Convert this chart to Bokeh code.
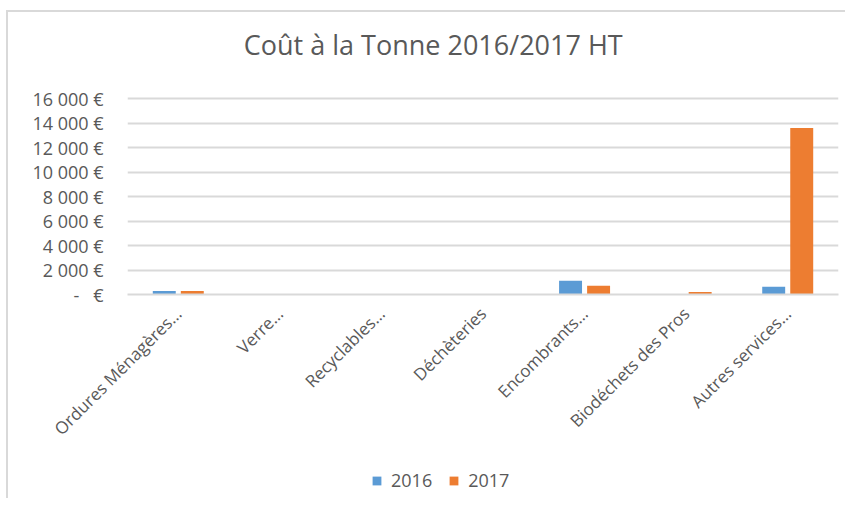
import math
from bokeh.plotting import figure
from bokeh.layouts import column
from bokeh.models import (ColumnDataSource, FixedTicker, Label, Legend, LegendItem,
                          FactorRange, Range1d)
from bokeh.transform import dodge
from bokeh.embed import file_html
from bokeh.resources import INLINE

categories = ["Ordures Ménagères…", "Verre…", "Recyclables…", "Déchèteries",
              "Encombrants…", "Biodéchets des Pros", "Autres services…"]
values_2016 = [290, 0, 0, 0, 1130, 0, 630]
values_2017 = [290, 0, 0, 0, 710, 200, 13600]
y_ticks = [0, 2000, 4000, 6000, 8000, 10000, 12000, 14000, 16000]
y_tick_labels = ["-\u00a0\u00a0\u00a0€", "2 000 €", "4 000 €", "6 000 €", "8 000 €",
                 "10 000 €", "12 000 €", "14 000 €", "16 000 €"]
series_names = ["2016", "2017"]
title_text = "Coût à la Tonne 2016/2017 HT"

FONT = "Open Sans"
TXT = "#595959"
GRID = "#d9d9d9"
BLUE = "#5b9bd5"
ORANGE = "#ed7d31"

src = ColumnDataSource(dict(cat=categories, v2016=values_2016, v2017=values_2017))

# main chart: frame extends above the 16000 line to host the title
p = figure(width=837, height=450, output_backend="svg", toolbar_location=None,
           title_location=None,
           x_range=FactorRange(*categories), y_range=(0, 22370),
           min_border_left=119, min_border_right=7, min_border_top=8,
           min_border_bottom=168)
p.outline_line_color = None
p.background_fill_color = "white"
p.border_fill_color = "white"

r1 = p.vbar(x=dodge("cat", -0.138, range=p.x_range), top="v2016", width=0.226,
            source=src, fill_color=BLUE, line_color=None)
r2 = p.vbar(x=dodge("cat", 0.138, range=p.x_range), top="v2017", width=0.226,
            source=src, fill_color=ORANGE, line_color=None)

p.yaxis.ticker = FixedTicker(ticks=y_ticks)
p.yaxis.major_label_overrides = {t: l for t, l in zip(y_ticks, y_tick_labels)}
p.yaxis.axis_line_color = None
p.yaxis.major_tick_line_color = None
p.yaxis.minor_tick_line_color = None
p.yaxis.major_tick_out = 0
p.yaxis.major_label_standoff = 24
p.yaxis.major_label_text_font = FONT
p.yaxis.major_label_text_font_size = "18px"
p.yaxis.major_label_text_color = TXT

p.xaxis.axis_line_color = GRID
p.xaxis.axis_line_width = 2
p.xaxis.major_tick_line_color = None
p.xaxis.minor_tick_line_color = None
p.xaxis.major_tick_out = 0
p.xaxis.major_label_standoff = 16
p.xaxis.major_label_orientation = math.pi / 4
p.xaxis.major_label_text_font = FONT
p.xaxis.major_label_text_font_size = "17px"
p.xaxis.major_label_text_color = TXT

p.xgrid.grid_line_color = None
p.ygrid.ticker = FixedTicker(ticks=y_ticks)
p.ygrid.grid_line_color = GRID
p.ygrid.grid_line_width = 2

p.add_layout(Label(x=3.01, y=20400, text=title_text, text_align="center",
                   text_baseline="alphabetic", text_font=FONT,
                   text_font_size="27px", text_color=TXT))

# legend strip below the chart (its glyphs have zero size, only the legend shows)
q = figure(width=837, height=36, output_backend="svg", toolbar_location=None,
           title_location=None, x_axis_type=None, y_axis_type=None,
           x_range=FactorRange(*categories), y_range=Range1d(-2, -1),
           min_border_left=0, min_border_right=0,
           min_border_top=0, min_border_bottom=0)
q.outline_line_color = None
q.background_fill_color = "white"
q.border_fill_color = "white"
l1 = q.vbar(x="cat", top="v2016", bottom="v2016", width=0, source=src,
            fill_color=BLUE, line_color=None)
l2 = q.vbar(x="cat", top="v2017", bottom="v2017", width=0, source=src,
            fill_color=ORANGE, line_color=None)
legend = Legend(items=[LegendItem(label=series_names[0], renderers=[l1]),
                       LegendItem(label=series_names[1], renderers=[l2])],
                orientation="horizontal", location=(244, 6),
                glyph_width=11, glyph_height=11, label_standoff=9, spacing=16,
                padding=0, margin=0, border_line_color=None,
                background_fill_alpha=0, label_text_font=FONT,
                label_text_font_size="18px", label_text_color=TXT)
q.add_layout(legend, "center")

layout = column(p, q, spacing=0)
layout.styles = {"margin-left": "6px", "margin-top": "10px",
                 "border-left": "2px solid #d9d9d9", "border-top": "2px solid #d9d9d9"}

open("out.html", "w").write(file_html(layout, INLINE))
